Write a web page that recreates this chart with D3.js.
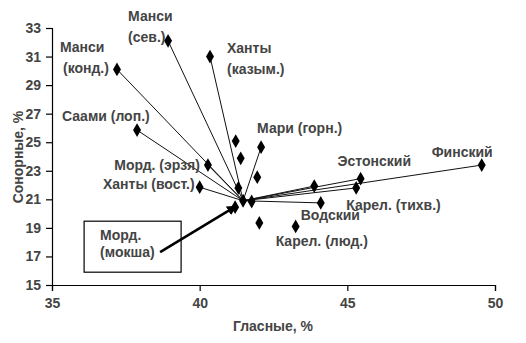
<!DOCTYPE html>
<html><head><meta charset="utf-8">
<script src="https://cdn.jsdelivr.net/npm/d3@7"></script>
<style>
html,body{margin:0;padding:0;background:#fff;}
text{font-family:"Liberation Sans",Arial,sans-serif;font-weight:bold;}
</style></head>
<body><svg id="chart" width="526" height="343"></svg>
<script>
// ---- data ----
const names = ["Манси (сев.)","Манси (конд.)","Ханты (казым.)","Саами (лоп.)","Морд. (эрзя)","Ханты (вост.)","Мари (горн.)","Эстонский","Финский","Карел. (тихв.)","","Водский","Карел. (люд.)","","","","","","","","Морд. (мокша)"];
const vowels    = [38.93,37.2,40.35,37.88,40.28,40.0,42.08,45.45,49.55,45.3,43.88,44.1,43.25,42.02,41.95,41.22,41.39,41.31,41.47,41.76,41.2];
const sonorants = [32.1,30.1,31.0,25.85,23.4,21.85,24.65,22.45,23.4,21.8,21.93,20.75,19.1,19.35,22.55,25.08,23.87,21.8,20.9,20.85,20.45];
const linked    = [1,1,1,1,1,1,1,1,1,1,1,1,0,0,0,0,0,0,0,0,0];
const hubIndex = 18;
const xTicks = [35,40,45,50];
const yTicks = [15,17,19,21,23,25,27,29,31,33];
const xTitle = "Гласные, %";
const yTitle = "Сонорные, %";

// ---- layout (pixel offsets for labels) ----
const labelLayout = {
  "Манси (сев.)":   {lines:["Манси","(сев.)"], dx:-40, dy:-20, anchor:"start"},
  "Манси (конд.)":  {lines:["Манси","(конд.)"], dx:-57, dy:-17, anchor:"start", dx2:-54},
  "Ханты (казым.)": {lines:["Ханты","(казым.)"], dx:17, dy:-4, anchor:"start"},
  "Саами (лоп.)":   {lines:["Саами (лоп.)"], dx:-75, dy:-9, anchor:"start"},
  "Морд. (эрзя)":   {lines:["Морд. (эрзя)"], dx:-8, dy:5, anchor:"end"},
  "Ханты (вост.)":  {lines:["Ханты (вост.)"], dx:-5, dy:2, anchor:"end"},
  "Мари (горн.)":   {lines:["Мари (горн.)"], dx:-4, dy:-14, anchor:"start"},
  "Эстонский":      {lines:["Эстонский"], dx:-23, dy:-13, anchor:"start"},
  "Финский":        {lines:["Финский"], dx:11, dy:-8, anchor:"end"},
  "Карел. (тихв.)": {lines:["Карел. (тихв.)"], dx:-10, dy:22, anchor:"start"},
  "Водский":        {lines:["Водский"], dx:-20, dy:17, anchor:"start"},
  "Карел. (люд.)":  {lines:["Карел. (люд.)"], dx:-20, dy:20, anchor:"start"}
};
const textColor = "#444";

const svg = d3.select("#chart");
const x = d3.scaleLinear().domain([35,50]).range([52,495]);
const y = d3.scaleLinear().domain([15,33]).range([285,28]);

// axes
const xAxis = svg.append("g").attr("transform","translate(0,285)")
  .call(d3.axisBottom(x).tickValues(xTicks).tickSize(6).tickPadding(7));
const yAxis = svg.append("g").attr("transform","translate(52,0)")
  .call(d3.axisLeft(y).tickValues(yTicks).tickSize(6).tickPadding(5));
[xAxis,yAxis].forEach(a=>{
  a.select(".domain").attr("stroke","#000").attr("stroke-width",1.2);
  a.selectAll(".tick line").attr("stroke","#000").attr("stroke-width",1.2);
  a.selectAll(".tick text").attr("font-size",14).attr("fill",textColor)
   .attr("font-family","Liberation Sans, Arial, sans-serif").attr("font-weight","bold");
});

svg.append("text").attr("x",273).attr("y",331).attr("text-anchor","middle")
  .attr("font-size",14).attr("fill",textColor).text(xTitle);
svg.append("text").attr("transform","translate(23,157) rotate(-90)").attr("text-anchor","middle")
  .attr("font-size",14).attr("fill",textColor).text(yTitle);

const data = names.map((n,i)=>({name:n, vx:vowels[i], sy:sonorants[i], link:linked[i]}));
const hub = data[hubIndex];

// lines
svg.append("g").selectAll("line").data(data.filter(d=>d.link)).join("line")
  .attr("x1",x(hub.vx)).attr("y1",y(hub.sy))
  .attr("x2",d=>x(d.vx)).attr("y2",d=>y(d.sy))
  .attr("stroke","#111").attr("stroke-width",1);

// diamonds
svg.append("g").selectAll("path").data(data).join("path")
  .attr("d",d3.symbol(d3.symbolDiamond,55))
  .attr("transform",d=>`translate(${x(d.vx)},${y(d.sy)})`)
  .attr("fill","#000");

// labels
const lg = svg.append("g").attr("font-size",14).attr("fill",textColor);
data.forEach(d=>{
  const L = labelLayout[d.name]; if(!L) return;
  L.lines.forEach((t,k)=>{
    lg.append("text").attr("text-anchor",L.anchor)
      .attr("x",x(d.vx)+(k>0&&L.dx2!==undefined?L.dx2:L.dx))
      .attr("y",y(d.sy)+L.dy+k*21).text(t);
  });
});

// boxed label with arrow for Морд. (мокша)
const mok = data[names.indexOf("Морд. (мокша)")];
const mx = x(mok.vx), my = y(mok.sy);
svg.append("rect").attr("x",mx-151).attr("y",my+14).attr("width",97).attr("height",51)
  .attr("fill","none").attr("stroke","#000").attr("stroke-width",1.2);
svg.append("text").attr("x",mx-135).attr("y",my+33).attr("font-size",14).attr("fill",textColor).text("Морд.");
svg.append("text").attr("x",mx-135).attr("y",my+50).attr("font-size",14).attr("fill",textColor).text("(мокша)");
svg.append("defs").append("marker").attr("id","ah").attr("viewBox","0 0 10 10")
  .attr("refX",9).attr("refY",5).attr("markerWidth",4).attr("markerHeight",4).attr("orient","auto")
  .append("path").attr("d","M0,0L10,5L0,10z").attr("fill","#000");
svg.append("line").attr("x1",mx-75).attr("y1",my+45).attr("x2",mx+1).attr("y2",my-1)
  .attr("stroke","#000").attr("stroke-width",2.5).attr("marker-end","url(#ah)");
</script></body></html>
